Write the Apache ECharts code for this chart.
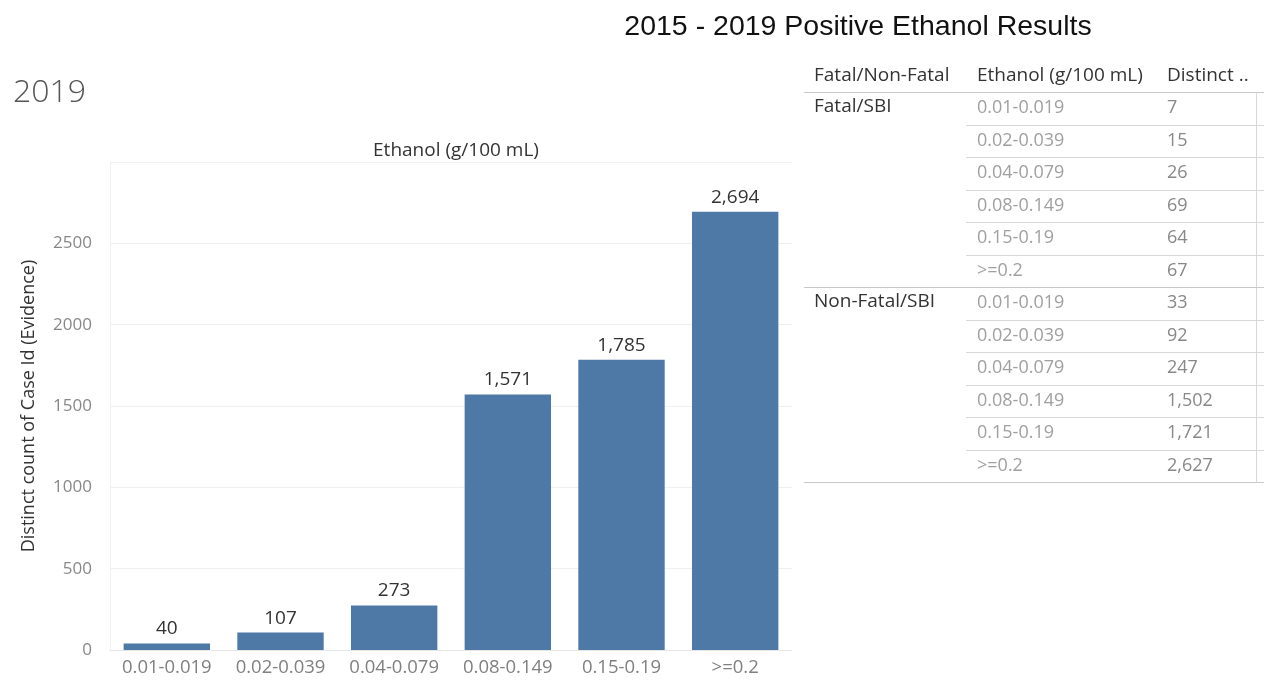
<!DOCTYPE html>
<html>
<head>
<meta charset="utf-8">
<script src="https://cdn.jsdelivr.net/npm/echarts@6/dist/echarts.min.js"></script>
<style>html,body{margin:0;padding:0;background:#fff}#c{width:1270px;height:684px}</style>
</head>
<body>
<div id="c"></div>
<script>
// ---- data ----
const categories = ['0.01-0.019','0.02-0.039','0.04-0.079','0.08-0.149','0.15-0.19','>=0.2'];
const totalCounts = [40, 107, 273, 1571, 1785, 2694];
const tableGroups = ['Fatal/SBI', 'Non-Fatal/SBI'];
const fatalCounts = [7, 15, 26, 69, 64, 67];
const nonFatalCounts = [33, 92, 247, 1502, 1721, 2627];
const tableHeaders = ['Fatal/Non-Fatal', 'Ethanol (g/100 mL)', 'Distinct ..'];
const yTicks = [0, 500, 1000, 1500, 2000, 2500, 3000];

// ---- table rows built from the arrays ----
const groupCounts = [fatalCounts, nonFatalCounts];
const tableRows = [];
tableGroups.forEach((g, gi) => {
  categories.forEach((c, ci) => {
    tableRows.push({ group: ci === 0 ? g : '', range: c, count: groupCounts[gi][ci], lastInGroup: ci === categories.length - 1 });
  });
});

const fmt = v => v.toLocaleString('en-US');
const FONT = '"Open Sans", "Noto Sans", sans-serif';

const chart = echarts.init(document.getElementById('c'), null, { renderer: 'canvas' });

const TBL = { left: 805, top: 92, width: 460, height: 390 };

chart.setOption({
  animation: false,
  backgroundColor: '#fff',
  textStyle: { fontFamily: FONT },
  title: [
    { text: '2015 - 2019 Positive Ethanol Results', left: 853, top: 8, textAlign: 'center',
      textStyle: { fontFamily: 'Liberation Sans, Arial, sans-serif', fontSize: 28.5, fontWeight: 'normal', color: '#111' } },
    { text: '2019', left: 8, top: 72, textStyle: { fontFamily: FONT, fontSize: 32, fontWeight: 300, color: '#555' } },
    { text: 'Ethanol (g/100 mL)', left: 451, top: 136, textAlign: 'center',
      textStyle: { fontFamily: FONT, fontSize: 19, fontWeight: 'normal', color: '#333' } }
  ],
  graphic: [
    { type: 'text', left: 814, top: 66, style: { text: tableHeaders[0], font: '19px ' + FONT, fill: '#333' } },
    { type: 'text', left: 977, top: 66, style: { text: tableHeaders[1], font: '19px ' + FONT, fill: '#333' } },
    { type: 'text', left: 1167, top: 66, style: { text: tableHeaders[2], font: '19px ' + FONT, fill: '#333' } },
    { type: 'line', shape: { x1: 804, y1: 92.5, x2: 1264, y2: 92.5 }, style: { stroke: '#c8c8c8', lineWidth: 1 } },
    { type: 'line', shape: { x1: 1256.5, y1: 92, x2: 1256.5, y2: 482 }, style: { stroke: '#d8d8d8', lineWidth: 1 } }
  ],
  grid: [
    { left: 110, right: 478, top: 162, bottom: 34 },
    { left: TBL.left, top: TBL.top, width: TBL.width, height: TBL.height }
  ],
  xAxis: [
    { type: 'category', gridIndex: 0, data: categories,
      axisTick: { show: false },
      axisLine: { show: true, lineStyle: { color: '#e6e6e6' } },
      axisLabel: { interval: 0, hideOverlap: false, color: '#808080', fontSize: 18.5, margin: 8, fontFamily: FONT } },
    { type: 'value', gridIndex: 1, min: 0, max: 1, show: false }
  ],
  yAxis: [
    { type: 'value', gridIndex: 0, min: yTicks[0], max: yTicks[yTicks.length - 1], interval: 500,
      name: 'Distinct count of Case Id (Evidence)', nameLocation: 'middle', nameGap: 72, nameRotate: 90,
      nameTextStyle: { color: '#333', fontSize: 18, fontFamily: FONT },
      axisLine: { show: true, lineStyle: { color: '#f0f0f0' } },
      axisTick: { show: false },
      axisLabel: { color: '#888', fontSize: 17, margin: 18, showMaxLabel: false, fontFamily: FONT,
        formatter: v => String(v) },
      splitLine: { lineStyle: { color: '#efefef' } } },
    { type: 'category', gridIndex: 1, data: tableRows.map((r, i) => i), inverse: true, show: false }
  ],
  series: [
    { type: 'bar', xAxisIndex: 0, yAxisIndex: 0, data: totalCounts, barCategoryGap: '24%',
      itemStyle: { color: '#4e79a7' },
      label: { show: true, position: 'top', distance: 5, color: '#333', fontSize: 19, fontFamily: FONT,
        formatter: p => fmt(p.value) } },
    { type: 'custom', xAxisIndex: 1, yAxisIndex: 1, coordinateSystem: 'cartesian2d',
      data: tableRows.map((r, i) => [0, i]),
      renderItem: function (params, api) {
        const row = tableRows[params.dataIndex];
        const yc = api.coord([0, api.value(1)])[1];
        const h = api.size([0, 1])[1];
        const cs = params.coordSys;
        const yb = Math.round(yc + h / 2) + 0.5;
        return {
          type: 'group',
          children: [
            { type: 'text', style: { text: row.group, x: cs.x + 9, y: yc - 2, verticalAlign: 'middle', font: '19px ' + FONT, fill: '#333' } },
            { type: 'text', style: { text: row.range, x: cs.x + 172, y: yc, verticalAlign: 'middle', font: '18px ' + FONT, fill: '#a0a0a0' } },
            { type: 'text', style: { text: fmt(row.count), x: cs.x + 362, y: yc, verticalAlign: 'middle', font: '18px ' + FONT, fill: '#888' } },
            { type: 'line', shape: { x1: row.lastInGroup ? cs.x - 1 : cs.x + 161, y1: yb, x2: cs.x + 459, y2: yb },
              style: { stroke: row.lastInGroup ? '#c8c8c8' : '#d8d8d8', lineWidth: 1 } }
          ]
        };
      } }
  ]
});
</script>
</body>
</html>
